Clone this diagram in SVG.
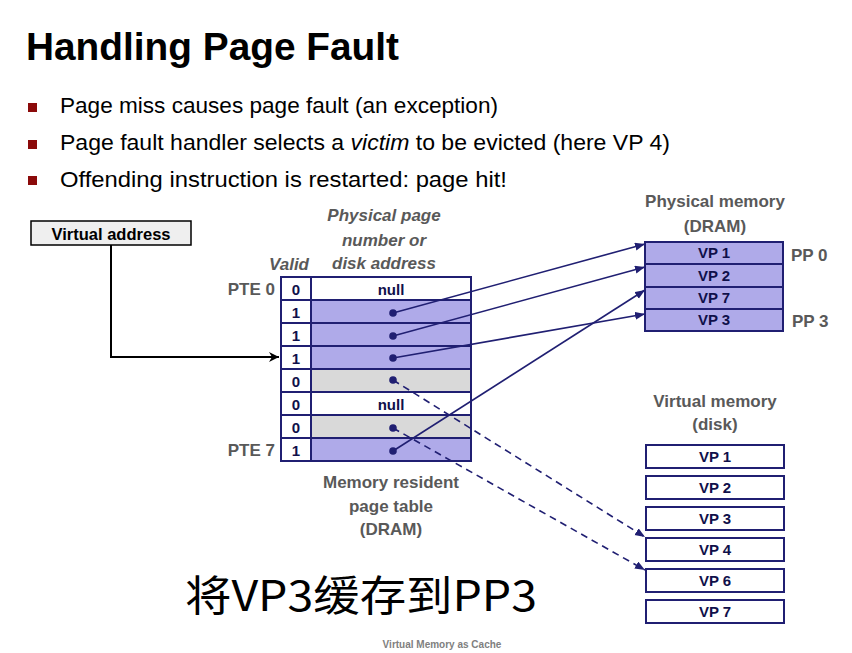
<svg xmlns="http://www.w3.org/2000/svg" width="852" height="653" viewBox="0 0 852 653">
<style>
.t{font-family:"Liberation Sans",Arial,sans-serif}
.g{fill:#595959;font-weight:bold;font-size:17px}
.pt{stroke:#201f72;stroke-width:2}
.lav{fill:#afaae9}
.gry{fill:#d9d9d9}
.wht{fill:#ffffff}
.lbl{font-family:"Liberation Sans",Arial,sans-serif;font-weight:bold;font-size:15px;fill:#10104a;text-anchor:middle}
.dot{fill:#201f72}
.con{stroke:#201f72;stroke-width:1.6;fill:none}
.dash{stroke-dasharray:7,5}
</style>
<defs>
<marker id="ah" markerUnits="userSpaceOnUse" markerWidth="12" markerHeight="10" refX="10" refY="4" orient="auto">
<path d="M0,0 L10,4 L0,8 z" fill="#201f72"/>
</marker>
<marker id="ahk" markerUnits="userSpaceOnUse" markerWidth="12" markerHeight="12" refX="10" refY="5" orient="auto">
<path d="M0,0 L10,5 L0,10 L3,5 z" fill="#000"/>
</marker>
</defs>
<rect width="852" height="653" fill="#fff"/>

<g id="title">
<text class="t" x="26" y="60" font-size="39" font-weight="bold" textLength="373" lengthAdjust="spacingAndGlyphs">Handling Page Fault</text>
</g>
<g id="bullets" class="t" font-size="22" fill="#000">
<rect x="28" y="103" width="9" height="9" fill="#8b0a0a"/>
<rect x="28" y="140" width="9" height="9" fill="#8b0a0a"/>
<rect x="28" y="176" width="9" height="9" fill="#8b0a0a"/>
<text x="60" y="113" textLength="438" lengthAdjust="spacingAndGlyphs">Page miss causes page fault (an exception)</text>
<text x="60" y="150" textLength="610" lengthAdjust="spacingAndGlyphs">Page fault handler selects a <tspan font-style="italic">victim</tspan> to be evicted (here VP 4)</text>
<text x="60" y="187" textLength="447" lengthAdjust="spacingAndGlyphs">Offending instruction is restarted: page hit!</text>
</g>

<g id="virtual-address">
<rect x="31" y="221" width="160" height="24" fill="#efefef" stroke="#000" stroke-width="1.5"/>
<text class="t" x="111" y="240" font-size="16" font-weight="bold" text-anchor="middle" textLength="119" lengthAdjust="spacingAndGlyphs">Virtual address</text>
</g>

<g id="page-table-labels" class="t">
<text class="g" x="384" y="221" text-anchor="middle" font-style="italic">Physical page</text>
<text class="g" x="384" y="246" text-anchor="middle" font-style="italic">number or</text>
<text class="g" x="384" y="269" text-anchor="middle" font-style="italic">disk address</text>
<text class="g" x="309" y="270" text-anchor="end" font-style="italic">Valid</text>
<text class="g" x="275" y="295" text-anchor="end">PTE 0</text>
<text class="g" x="275" y="456" text-anchor="end">PTE 7</text>
<text class="g" x="391" y="488" text-anchor="middle">Memory resident</text>
<text class="g" x="391" y="512" text-anchor="middle">page table</text>
<text class="g" x="391" y="535" text-anchor="middle">(DRAM)</text>
</g>

<g id="page-table">
<rect class="pt wht" x="281" y="277" width="30" height="23"/><rect class="pt wht" x="311" y="277" width="160" height="23"/>
<rect class="pt wht" x="281" y="300" width="30" height="23"/><rect class="pt lav" x="311" y="300" width="160" height="23"/>
<rect class="pt wht" x="281" y="323" width="30" height="23"/><rect class="pt lav" x="311" y="323" width="160" height="23"/>
<rect class="pt wht" x="281" y="346" width="30" height="23"/><rect class="pt lav" x="311" y="346" width="160" height="23"/>
<rect class="pt wht" x="281" y="369" width="30" height="23"/><rect class="pt gry" x="311" y="369" width="160" height="23"/>
<rect class="pt wht" x="281" y="392" width="30" height="23"/><rect class="pt wht" x="311" y="392" width="160" height="23"/>
<rect class="pt wht" x="281" y="415" width="30" height="23"/><rect class="pt gry" x="311" y="415" width="160" height="23"/>
<rect class="pt wht" x="281" y="438" width="30" height="23"/><rect class="pt lav" x="311" y="438" width="160" height="23"/>
<text class="lbl" x="296" y="295">0</text>
<text class="lbl" x="296" y="318">1</text>
<text class="lbl" x="296" y="341">1</text>
<text class="lbl" x="296" y="364">1</text>
<text class="lbl" x="296" y="387">0</text>
<text class="lbl" x="296" y="410">0</text>
<text class="lbl" x="296" y="433">0</text>
<text class="lbl" x="296" y="456">1</text>
<text class="lbl" x="391" y="295" fill="#000">null</text>
<text class="lbl" x="391" y="410" fill="#000">null</text>
<circle class="dot" cx="393" cy="313" r="3.8"/>
<circle class="dot" cx="393" cy="336" r="3.8"/>
<circle class="dot" cx="393" cy="358" r="3.8"/>
<circle class="dot" cx="393" cy="380" r="3.8"/>
<circle class="dot" cx="393" cy="428" r="3.8"/>
<circle class="dot" cx="393" cy="451" r="3.8"/>
</g>

<g id="physical-memory">
<text class="t g" x="715" y="207" text-anchor="middle">Physical memory</text>
<text class="t g" x="715" y="232" text-anchor="middle">(DRAM)</text>
<rect class="pt lav" x="645" y="242" width="138" height="22"/>
<rect class="pt lav" x="645" y="264" width="138" height="23"/>
<rect class="pt lav" x="645" y="287" width="138" height="22"/>
<rect class="pt lav" x="645" y="309" width="138" height="22"/>
<text class="lbl" x="714" y="258" fill="#000">VP 1</text>
<text class="lbl" x="714" y="281" fill="#000">VP 2</text>
<text class="lbl" x="714" y="303" fill="#000">VP 7</text>
<text class="lbl" x="714" y="325" fill="#000">VP 3</text>
<text class="t g" x="791" y="261">PP 0</text>
<text class="t g" x="792" y="327">PP 3</text>
</g>

<g id="disk">
<text class="t g" x="715" y="407" text-anchor="middle">Virtual memory</text>
<text class="t g" x="715" y="430" text-anchor="middle">(disk)</text>
<rect class="pt wht" x="646" y="445" width="138" height="23"/>
<rect class="pt wht" x="646" y="476" width="138" height="23"/>
<rect class="pt wht" x="646" y="507" width="138" height="23"/>
<rect class="pt wht" x="646" y="538" width="138" height="23"/>
<rect class="pt wht" x="646" y="569" width="138" height="23"/>
<rect class="pt wht" x="646" y="600" width="138" height="23"/>
<text class="lbl" x="715" y="462" fill="#000">VP 1</text>
<text class="lbl" x="715" y="493" fill="#000">VP 2</text>
<text class="lbl" x="715" y="524" fill="#000">VP 3</text>
<text class="lbl" x="715" y="555" fill="#000">VP 4</text>
<text class="lbl" x="715" y="586" fill="#000">VP 6</text>
<text class="lbl" x="715" y="617" fill="#000">VP 7</text>
</g>

<g id="connectors">
<path d="M111,245 V357 H279" stroke="#000" stroke-width="2" fill="none" marker-end="url(#ahk)"/>
<line class="con" x1="393" y1="313" x2="645" y2="244" marker-end="url(#ah)"/>
<line class="con" x1="393" y1="336" x2="645" y2="267" marker-end="url(#ah)"/>
<line class="con" x1="393" y1="358" x2="645" y2="314" marker-end="url(#ah)"/>
<line class="con" x1="393" y1="451" x2="645" y2="290" marker-end="url(#ah)"/>
<line class="con dash" x1="393" y1="380" x2="645" y2="537" marker-end="url(#ah)"/>
<line class="con dash" x1="393" y1="428" x2="645" y2="570" marker-end="url(#ah)"/>
</g>

<g id="caption">
<text x="185" y="611" font-family="'Noto Sans CJK SC',sans-serif" font-size="42" fill="#000" textLength="352" lengthAdjust="spacingAndGlyphs">将VP3缓存到PP3</text>
</g>
<g id="footer">
<text class="t" x="442" y="648" font-size="10" font-weight="bold" fill="#808080" text-anchor="middle">Virtual Memory as Cache</text>
</g>
</svg>
